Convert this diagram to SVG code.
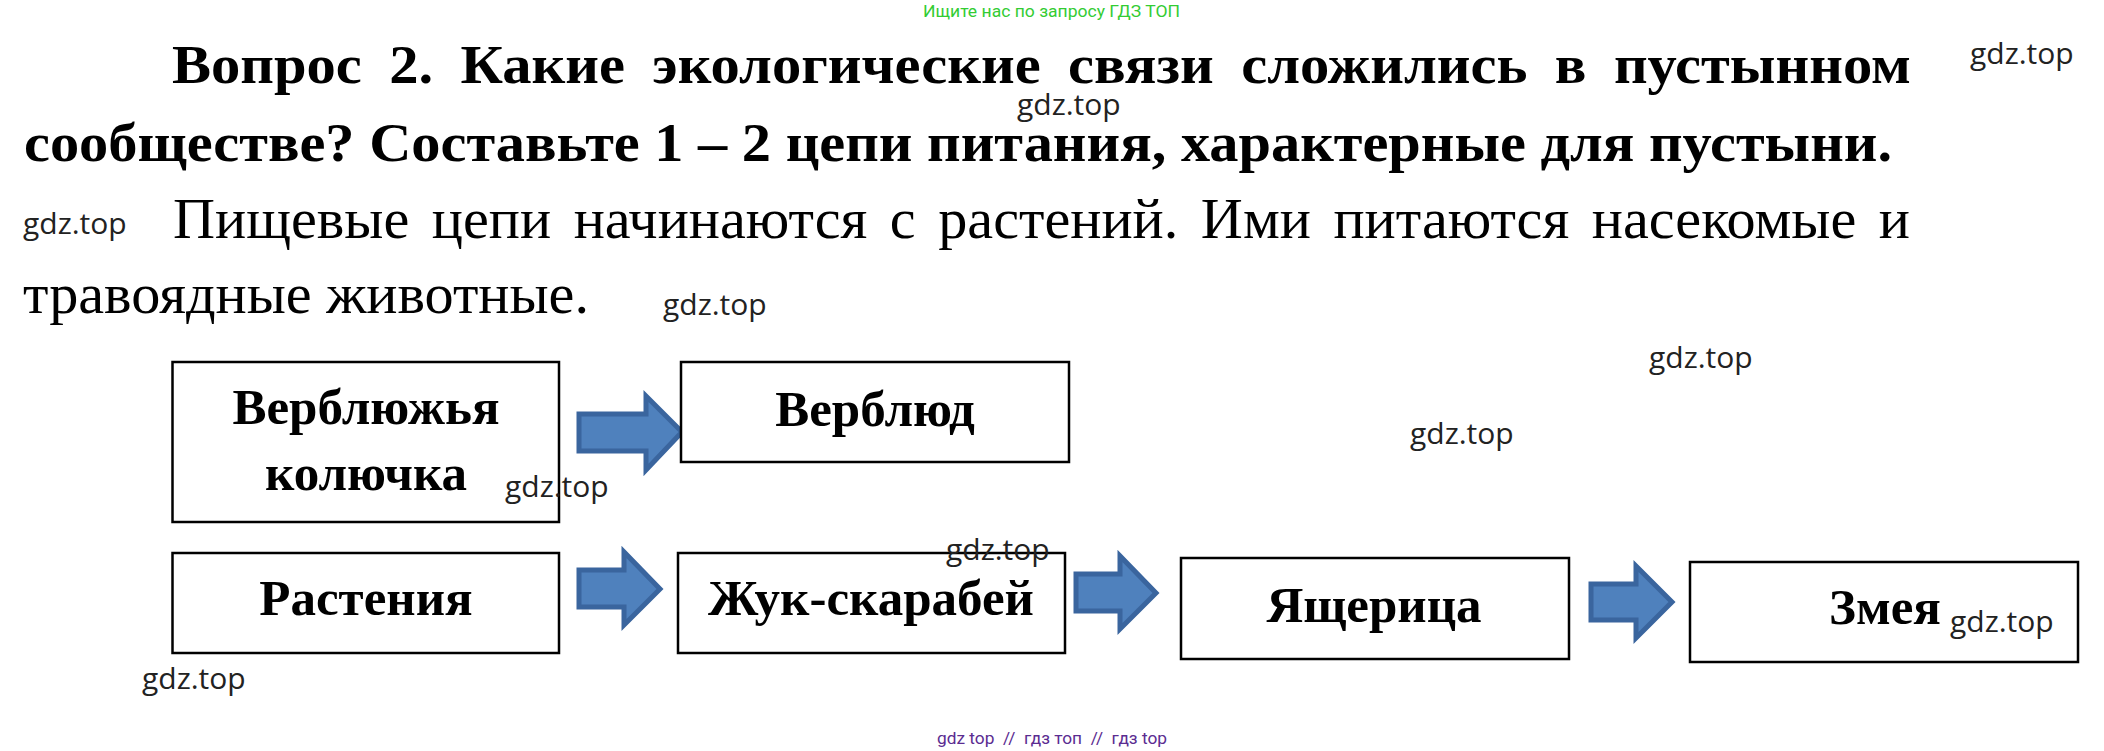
<svg xmlns="http://www.w3.org/2000/svg" width="2104" height="751" viewBox="0 0 2104 751">
<style>
.title{font-family:"Liberation Serif","Times New Roman",serif;font-weight:bold;font-size:55px;fill:#000}
.body{font-family:"Liberation Serif","Times New Roman",serif;font-size:58px;fill:#000}
.lbl{font-family:"Liberation Serif","Times New Roman",serif;font-weight:bold;font-size:51px;fill:#000;text-anchor:middle}
.wm{font-family:"Open Sans","Liberation Sans",sans-serif;font-size:30px;fill:#222}
.box{fill:#fff;stroke:#000;stroke-width:2.5}
.arr{fill:#4F81BD;stroke:#3A659E;stroke-width:5;stroke-linejoin:miter}
</style>
<rect width="2104" height="751" fill="#fff"/>
<text x="923" y="17" textLength="257" lengthAdjust="spacingAndGlyphs" font-family="Roboto,'Liberation Sans',sans-serif" font-size="17" fill="#33CC33">Ищите нас по запросу ГДЗ ТОП</text>
<g id="text">
<text class="title" x="172" y="83" word-spacing="12" textLength="1739" lengthAdjust="spacingAndGlyphs">Вопрос 2. Какие экологические связи сложились в пустынном</text>
<text class="title" x="24" y="161" textLength="1868" lengthAdjust="spacingAndGlyphs">сообществе? Составьте 1 – 2 цепи питания, характерные для пустыни.</text>
<text class="body" x="173" y="238" word-spacing="8" textLength="1737" lengthAdjust="spacingAndGlyphs">Пищевые цепи начинаются с растений. Ими питаются насекомые и</text>
<text class="body" x="23" y="313" textLength="566" lengthAdjust="spacingAndGlyphs">травоядные животные.</text>
</g>
<g id="connectors">
<polygon class="arr" points="579,414 646,414 646,396 682,432 646,470 646,451 579,451"/>
<polygon class="arr" points="579,570 624,570 624,552 660,589 624,625 624,607 579,607"/>
<polygon class="arr" points="1076,574 1120,574 1120,556 1156,593 1120,629 1120,611 1076,611"/>
<polygon class="arr" points="1591,584 1636,584 1636,566 1672,602 1636,638 1636,620 1591,620"/>
</g>
<g id="n1"><rect class="box" x="172.5" y="362" width="386.5" height="160"/><text class="lbl" x="366" y="424">Верблюжья</text><text class="lbl" x="366" y="490">колючка</text></g>
<g id="n2"><rect class="box" x="681" y="362" width="388" height="100"/><text class="lbl" x="875" y="426">Верблюд</text></g>
<g id="n3"><rect class="box" x="172.5" y="553" width="386.5" height="100"/><text class="lbl" x="366" y="615">Растения</text></g>
<g id="n4"><rect class="box" x="678" y="553" width="387" height="100"/><text class="lbl" x="871" y="615">Жук-скарабей</text></g>
<g id="n5"><rect class="box" x="1181" y="558" width="388" height="101"/><text class="lbl" x="1374" y="622">Ящерица</text></g>
<g id="n6"><rect class="box" x="1690" y="562" width="388" height="100"/><text class="lbl" x="1885" y="624">Змея</text></g>
<g id="watermarks">
<text class="wm" x="1970" y="64">gdz.top</text>
<text class="wm" x="1017" y="115">gdz.top</text>
<text class="wm" x="23" y="234">gdz.top</text>
<text class="wm" x="663" y="315">gdz.top</text>
<text class="wm" x="1649" y="368">gdz.top</text>
<text class="wm" x="1410" y="444">gdz.top</text>
<text class="wm" x="505" y="497">gdz.top</text>
<text class="wm" x="946" y="560">gdz.top</text>
<text class="wm" x="1950" y="632">gdz.top</text>
<text class="wm" x="142" y="689">gdz.top</text>
</g>
<text x="937" y="744" textLength="230" lengthAdjust="spacingAndGlyphs" font-family="Roboto,'Liberation Sans',sans-serif" font-size="17" fill="#5B2C91" xml:space="preserve">gdz top  //  гдз топ  //  гдз top</text>
</svg>
